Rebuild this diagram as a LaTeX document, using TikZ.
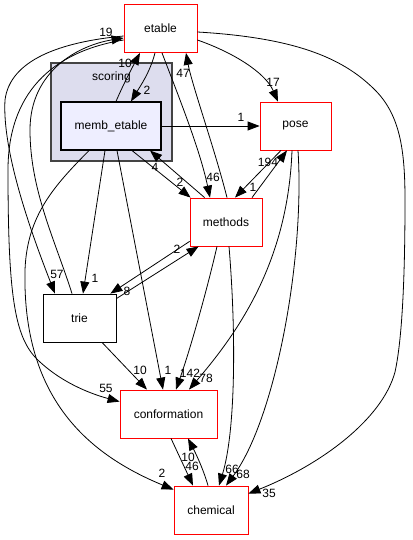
\documentclass[tikz,border=0pt]{standalone}
\usepackage{fontspec}
\setmainfont{Liberation Sans}
\usetikzlibrary{arrows.meta,calc}
\definecolor{clfill}{HTML}{DDDDEE}
\definecolor{mbfill}{HTML}{EEEEFF}
\definecolor{clline}{HTML}{444444}
\tikzset{
  box/.style={draw, rectangle, minimum height=48pt, inner sep=0pt, line width=0.8pt, font=\fontsize{12}{14}\selectfont},
  redbox/.style={box, draw=red},
  blackbox/.style={box, draw=black},
  lbl/.style={inner sep=0pt, font=\fontsize{12}{14}\selectfont},
  edge/.style={line width=0.8pt, -{Triangle[length=12pt,width=9pt]}},
  clusterbox/.style={draw=clline, fill=clfill, line width=1.1pt, rectangle, inner sep=0pt},
}
\begin{document}
\begin{tikzpicture}[x=1pt,y=-1pt]
\useasboundingbox[fill=white] (0,0) rectangle (412,540);
% cluster
\node[clusterbox, minimum width=121pt, minimum height=98pt] (scoring) at (111.5,112) {};
\node[lbl] (scoringlbl) at (111.5,77) {scoring};
% nodes
\node[redbox, minimum width=73pt] (etable) at (160.5,28.5) {etable};
\node[box, draw=black, fill=mbfill, line width=1.1pt, minimum width=100pt] (memb) at (111,126) {memb\_etable};
\node[redbox, minimum width=71pt] (pose) at (295.5,126) {pose};
\node[redbox, minimum width=72pt] (methods) at (226,222) {methods};
\node[blackbox, minimum width=73pt] (trie) at (79.5,318) {trie};
\node[redbox, minimum width=97pt] (conf) at (168.5,414) {conformation};
\node[redbox, minimum width=74pt] (chem) at (211,510) {chemical};
% edges
\draw[edge] ($(etable.south)+(-5.5,0)$) .. controls (150,72) and (141,85) .. ($(memb.north)+(20,0)$);
\draw[edge] ($(memb.north)+(5,0)$) .. controls (123,85) and (132,68) .. ($(etable.south)+(-20.5,0)$);
\draw[edge] (memb.east) -- (pose.west);
\draw[edge] ($(memb.south)+(21,0)$) -- ($(methods.north west)+(1,0)$);
\draw[edge] ($(methods.north west)+(15,0)$) -- ($(memb.south)+(39,0)$);
\draw[edge] ($(memb.south)+(-6,0)$) -- ($(trie.north)+(3.5,0)$);
\draw[edge] ($(memb.south)+(6,0)$) -- ($(conf.north)+(-5.5,0)$);
\draw[edge] ($(memb.south)+(-22,0)$) .. controls (55,185) and (27,215) .. (25,270) .. controls (22,400) and (90,455) .. ($(chem.north west)+(0,4)$);
\draw[edge] ($(etable.east)+(0,11.5)$) .. controls (232,52) and (265,72) .. ($(pose.north)+(-17.5,0)$);
\draw[edge] ($(etable.east)+(0,3.5)$) .. controls (300,38) and (345,60) .. (375,90) .. controls (400,115) and (405,150) .. (405,200) .. controls (405,280) and (402,340) .. (395,372) .. controls (382,420) and (320,465) .. ($(chem.north east)+(0,8)$);
\draw[edge] ($(etable.south)+(1.5,0)$) .. controls (180,100) and (200,150) .. ($(methods.north)+(-16,0)$);
\draw[edge] ($(methods.north)+(1,0)$) .. controls (215,150) and (192,85) .. ($(etable.south)+(25.5,0)$);
\draw[edge] ($(pose.south)+(-14.5,0)$) -- ($(methods.north)+(9,0)$);
\draw[edge] ($(methods.north)+(26,0)$) -- ($(pose.south)+(-8.5,0)$);
\draw[edge] ($(methods.south west)+(0,-5)$) -- ($(trie.north east)+(-6,0)$);
\draw[edge] ($(trie.north east)+(0,5)$) -- ($(methods.south west)+(9,0)$);
\draw[edge] ($(methods.south)+(-9,0)$) .. controls (207,290) and (190,350) .. ($(conf.north)+(7.5,0)$);
\draw[edge] ($(methods.south)+(3,0)$) .. controls (236,330) and (236,430) .. ($(chem.north)+(8,0)$);
\draw[edge] ($(pose.south)+(-3.5,0)$) .. controls (288,260) and (240,330) .. ($(conf.north)+(20.5,0)$);
\draw[edge] ($(pose.south)+(2.5,0)$) .. controls (305,260) and (275,420) .. ($(chem.north)+(15,0)$);
\draw[edge] ($(trie.south)+(22.5,0)$) -- ($(conf.north)+(-21.5,0)$);
\draw[edge] ($(conf.south)+(2.5,0)$) -- ($(chem.north)+(-18,0)$);
\draw[edge] ($(chem.north)+(-3,0)$) .. controls (203,468) and (195,452) .. ($(conf.south)+(19.5,0)$);
\draw[edge] ($(etable.west)+(0,7.5)$) .. controls (60,42) and (10,60) .. (5,100) .. controls (2,150) and (30,230) .. ($(trie.north)+(-24.5,0)$);
\draw[edge] ($(trie.north)+(-7.5,0)$) .. controls (55,240) and (30,190) .. (30,130) .. controls (30,70) and (80,45) .. ($(etable.west)+(0,9.5)$);
\draw[edge] ($(etable.west)+(0,11.5)$) .. controls (50,52) and (8,95) .. (8,170) .. controls (8,300) and (15,340) .. (40,362) .. controls (65,385) and (95,395) .. ($(conf.north west)+(0,12)$);
% labels
\node[lbl] (l1) at (147,90) {2};
\node[lbl] (l2) at (125,63) {10};
\node[lbl] (l3) at (241,117) {1};
\node[lbl] (l4) at (180,182) {2};
\node[lbl] (l5) at (155,167) {4};
\node[lbl] (l6) at (95,278) {1};
\node[lbl] (l7) at (168,370) {1};
\node[lbl] (l8) at (162,473) {2};
\node[lbl] (l9) at (273,82) {17};
\node[lbl] (l10) at (269,493) {35};
\node[lbl] (l11) at (213,177) {46};
\node[lbl] (l12) at (183,73) {47};
\node[lbl] (l13) at (253,187) {1};
\node[lbl] (l14) at (268,162) {194};
\node[lbl] (l15) at (177,249) {2};
\node[lbl] (l16) at (127,291) {8};
\node[lbl] (l17) at (190,373) {142};
\node[lbl] (l18) at (232,469) {66};
\node[lbl] (l19) at (206,378) {78};
\node[lbl] (l20) at (243,474) {68};
\node[lbl] (l21) at (140,370) {10};
\node[lbl] (l22) at (192,466) {46};
\node[lbl] (l23) at (188,457) {10};
\node[lbl] (l24) at (57,274) {57};
\node[lbl] (l25) at (106,32) {19};
\node[lbl] (l26) at (106,388) {55};
\end{tikzpicture}
\end{document}
